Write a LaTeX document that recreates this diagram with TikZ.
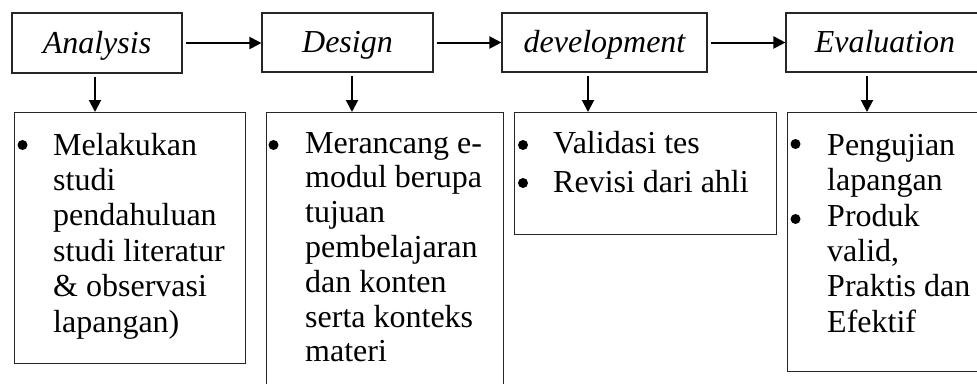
\documentclass[tikz,border=0pt]{standalone}
\usepackage{fontspec}
\setmainfont{Liberation Serif}
\usetikzlibrary{arrows.meta}
\begin{document}
\begin{tikzpicture}[x=1pt,y=-1pt,
 topbox/.style={draw=black!85, line width=1.1pt, inner sep=0pt, text height=24pt, text depth=4pt, font=\fontsize{32}{35.4}\selectfont\itshape},
 botbox/.style={draw=black!85, line width=1.1pt, inner sep=0pt, anchor=north west},
 arr/.style={line width=2pt, -{Triangle[length=12pt,width=12pt]}, shorten <=3pt},
 item/.style={inner sep=0pt, anchor=base west, font=\fontsize{32}{35.4}\selectfont},
 bul/.style={circle, fill=black, inner sep=0pt, minimum size=10pt}]
\useasboundingbox (0,0) rectangle (977,383);
\clip (0,0) rectangle (977,383);
\fill[white] (0,0) rectangle (977,383);
% top boxes
\node[topbox, minimum width=170pt, minimum height=60pt] (A) at (97,43) {Analysis};
\node[topbox, minimum width=171pt, minimum height=59pt] (D) at (347.5,42.5) {Design};
\node[topbox, minimum width=205pt, minimum height=59pt] (V) at (604.5,42.5) {development};
\node[topbox, minimum width=198pt, minimum height=59pt] (E) at (885,42.5) {Evaluation};
% bottom boxes
\node[botbox, minimum width=231pt, minimum height=251pt] (B1) at (14,112) {};
\node[botbox, minimum width=237pt, minimum height=300pt] (B2) at (266,112) {};
\node[botbox, minimum width=262pt, minimum height=122pt] (B3) at (514,112) {};
\node[botbox, minimum width=197pt, minimum height=259pt] (B4) at (787,112) {};
% horizontal arrows
\draw[arr] (A.east) -- (A.east -| D.west);
\draw[arr] (D.east) -- (D.east -| V.west);
\draw[arr] (V.east) -- (V.east -| E.west);
% down arrows
\draw[arr] ([xshift=-2pt]A.south) -- ([xshift=-2pt]A.south |- B1.north);
\draw[arr] ([xshift=4.5pt]D.south) -- ([xshift=4.5pt]D.south |- B2.north);
\draw[arr] ([xshift=-16.5pt]V.south) -- ([xshift=-16.5pt]V.south |- B3.north);
\draw[arr] ([xshift=-18pt]E.south) -- ([xshift=-18pt]E.south |- B4.north);
% box 1
\node[bul] (b1a) at (22.5,145) {};
\node[item] (t1a) at (53,155) {\parbox[t]{190pt}{Melakukan\\studi\\pendahuluan\\studi literatur\\\& observasi\\lapangan)}};
% box 2
\node[bul] (b2a) at (273.5,145) {};
\node[item, font=\fontsize{32}{34.8}\selectfont] (t2a) at (305,153) {\parbox[t]{195pt}{Merancang e-\\modul berupa\\tujuan\\pembelajaran\\dan konten\\serta konteks\\materi}};
% box 3
\node[bul] (b3a) at (523,145) {};
\node[item] (t3a) at (553,153) {Validasi tes};
\node[bul] (b3b) at (523,183) {};
\node[item] (t3b) at (553,192) {Revisi dari ahli};
% box 4
\node[bul] (b4a) at (795.5,144) {};
\node[item] (t4a) at (827,155) {\parbox[t]{150pt}{Pengujian\\lapangan}};
\node[bul] (b4b) at (795.5,219) {};
\node[item] (t4b) at (827,226) {\parbox[t]{150pt}{Produk\\valid,\\Praktis dan\\Efektif}};
\end{tikzpicture}
\end{document}
